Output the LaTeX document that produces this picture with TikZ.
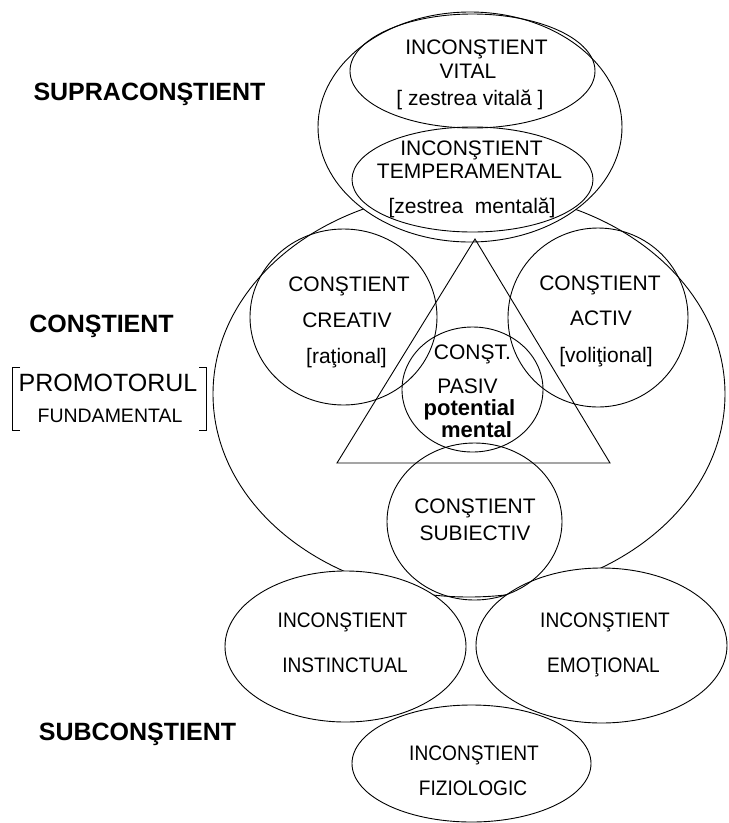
\documentclass[tikz,border=0pt]{standalone}
\usepackage{fontspec}
\setmainfont{Liberation Sans}
\newfontfamily\narrowfont{Liberation Sans}[FakeStretch=0.91]
\usetikzlibrary{shapes.geometric, positioning}

\tikzset{
    bubble/.style={ellipse, draw, line width=0.9pt, inner sep=0pt},
    lbl/.style={font=\fontsize{21}{21}\selectfont, anchor=base, inner sep=0pt},
    nlbl/.style={font=\narrowfont\fontsize{21}{21}\selectfont, anchor=base, inner sep=0pt},
    blbl/.style={font=\fontsize{22}{22}\selectfont\bfseries, anchor=base, inner sep=0pt},
    head/.style={font=\fontsize{25}{25}\selectfont\bfseries, anchor=base, inner sep=0pt}
}

\begin{document}
\begin{tikzpicture}[x=1pt,y=-1pt]
    \useasboundingbox (0,0) rectangle (729,823);

    % Cercul mare (constient)
    \node[bubble,minimum width=512pt,minimum height=406pt] (constient) at (469,394) {};

    % Supraconstient
    \node[bubble,fill=white,minimum width=304pt,minimum height=230pt] (supra) at (470,127) {};
    \node[bubble,minimum width=245pt,minimum height=114pt] (vital) at (472.5,71) {};
    \node[bubble,minimum width=241pt,minimum height=105pt] (temper) at (472.5,179.5) {};

    % Subconstient
    \node[bubble,fill=white,minimum width=241pt,minimum height=151pt] (instinct) at (345.5,646.5) {};
    \node[bubble,fill=white,minimum width=251pt,minimum height=155pt] (emotion) at (601.5,645.5) {};
    \node[bubble,fill=white,minimum width=239pt,minimum height=117pt] (fizio) at (471.5,763.5) {};

    % Constient
    \node[bubble,minimum width=187pt,minimum height=176pt] (creativ) at (343.5,317) {};
    \node[bubble,minimum width=180pt,minimum height=179pt] (activ) at (598,317.5) {};
    \coordinate (apex) at (475,239);
    \coordinate (baseL) at (337,463);
    \coordinate (baseR) at (610,463);
    \draw[line width=0.9pt] (apex) -- (baseL) -- (baseR) -- cycle;
    \node[bubble,minimum width=141pt,minimum height=125pt] (pasiv) at (472.5,389.5) {};
    \node[bubble,minimum width=175pt,minimum height=157pt] (subiectiv) at (474.5,521.5) {};

    % Texte
    \node[lbl] (vital-1) at (476.5,54) {INCONŞTIENT};
    \node[lbl] (vital-2) at (468,78) {VITAL};
    \node[lbl] (vital-3) at (470,105) {[ zestrea vitală ]};

    \node[lbl] (temper-1) at (471.5,155) {INCONŞTIENT};
    \node[lbl] (temper-2) at (469.5,178) {TEMPERAMENTAL};
    \node[lbl] (temper-3) at (472,213) {[zestrea \ mentală]};

    \node[lbl] (creativ-1) at (349,291) {CONŞTIENT};
    \node[lbl] (creativ-2) at (347,327) {CREATIV};
    \node[lbl] (creativ-3) at (346.5,363) {[raţional]};

    \node[lbl] (activ-1) at (600,290) {CONŞTIENT};
    \node[lbl] (activ-2) at (601,325) {ACTIV};
    \node[lbl] (activ-3) at (606,362) {[voliţional]};

    \node[lbl] (pasiv-1) at (472.5,359) {CONŞT.};
    \node[lbl] (pasiv-2) at (467.5,393) {PASIV};
    \node[blbl] (pasiv-3) at (469.5,415) {potential};
    \node[blbl] (pasiv-4) at (476.5,437) {mental};

    \node[lbl] (subiectiv-1) at (475,513) {CONŞTIENT};
    \node[lbl] (subiectiv-2) at (475,540) {SUBIECTIV};

    \node[nlbl] (instinct-1) at (342.5,627) {INCONŞTIENT};
    \node[nlbl] (instinct-2) at (345,672) {INSTINCTUAL};
    \node[nlbl] (emotion-1) at (605,627) {INCONŞTIENT};
    \node[nlbl] (emotion-2) at (603.5,672) {EMOŢIONAL};
    \node[nlbl] (fizio-1) at (474,760) {INCONŞTIENT};
    \node[nlbl] (fizio-2) at (473,795) {FIZIOLOGIC};

    % Titluri
    \node[head] (t-supra) at (149.5,100) {SUPRACONŞTIENT};
    \node[head] (t-const) at (101.5,332) {CONŞTIENT};
    \node[head] (t-sub) at (137.5,740) {SUBCONŞTIENT};

    \node[lbl,font=\fontsize{25}{25}\selectfont] (promo) at (108,391) {PROMOTORUL};
    \node[lbl,font=\fontsize{19.5}{19.5}\selectfont] (fund) at (110,422) {FUNDAMENTAL};
    \draw[line width=0.9pt] (20,367) -- (12.5,367) -- (12.5,430) -- (20,430);
    \draw[line width=0.9pt] (199,367) -- (206,367) -- (206,430) -- (199,430);
\end{tikzpicture}
\end{document}
